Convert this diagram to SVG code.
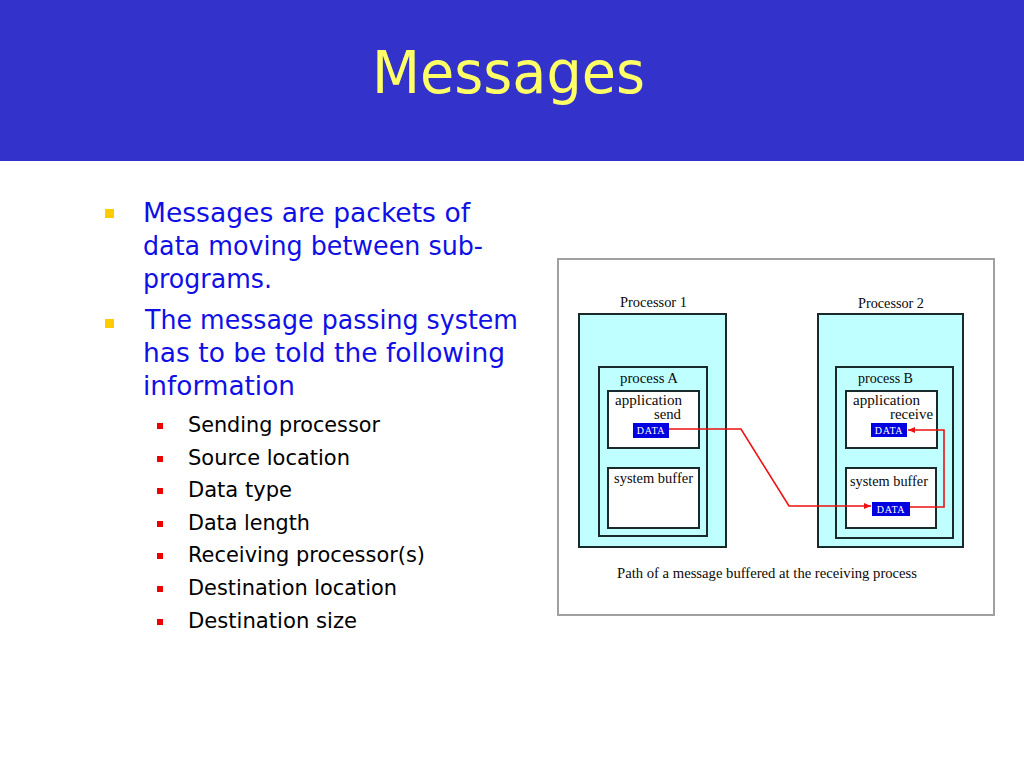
<svg xmlns="http://www.w3.org/2000/svg" width="1024" height="768" viewBox="0 0 1024 768">
<style>
.title{font-family:"DejaVu Sans","Noto Sans",sans-serif;font-size:58px;fill:#FFFF66}
.b1{font-family:"DejaVu Sans","Noto Sans",sans-serif;font-size:27px;fill:#1010E6}
.b2{font-family:"DejaVu Sans","Noto Sans",sans-serif;font-size:21px;fill:#000}
.dt{font-family:"Liberation Serif","DejaVu Serif",serif;font-size:14.5px;fill:#0a0a0a}
.cap{font-family:"Liberation Serif","DejaVu Serif",serif;font-size:14.5px;fill:#0a0a0a}
.data{font-family:"Liberation Serif","DejaVu Serif",serif;font-size:10px;fill:#fff;text-anchor:middle;letter-spacing:0.6px}
.proc{fill:#C0FFFF;stroke:#1a2a2a;stroke-width:2}
.inner{fill:#fff;stroke:#1a2a2a;stroke-width:2}
.dbox{fill:#0000E0}
.conn{fill:none;stroke:#EE1111;stroke-width:1.6}
</style>
<defs>
<marker id="arr" markerWidth="8" markerHeight="8" refX="7" refY="4" orient="auto" markerUnits="userSpaceOnUse">
<path d="M0,1 L7,4 L0,7 Z" fill="#EE1111"/>
</marker>
</defs>
<rect x="0" y="0" width="1024" height="768" fill="#fff"/>
<rect x="0" y="0" width="1024" height="161" fill="#3333CC"/>
<text class="title" x="372" y="93" textLength="273" lengthAdjust="spacingAndGlyphs">Messages</text>

<g id="bullets">
<rect x="105" y="209" width="9" height="9" fill="#FFCC00"/>
<rect x="105" y="319" width="9" height="9" fill="#FFCC00"/>
<text class="b1" x="143" y="222" textLength="327" lengthAdjust="spacingAndGlyphs">Messages are packets of</text>
<text class="b1" x="143" y="255" textLength="340" lengthAdjust="spacingAndGlyphs">data moving between sub-</text>
<text class="b1" x="143" y="288" textLength="129" lengthAdjust="spacingAndGlyphs">programs.</text>
<text class="b1" x="145" y="329" textLength="373" lengthAdjust="spacingAndGlyphs">The message passing system</text>
<text class="b1" x="143" y="362" textLength="362" lengthAdjust="spacingAndGlyphs">has to be told the following</text>
<text class="b1" x="143" y="395" textLength="152" lengthAdjust="spacingAndGlyphs">information</text>
<g fill="#EE0000">
<rect x="157" y="423" width="6" height="6"/>
<rect x="157" y="456" width="6" height="6"/>
<rect x="157" y="488" width="6" height="6"/>
<rect x="157" y="521" width="6" height="6"/>
<rect x="157" y="553" width="6" height="6"/>
<rect x="157" y="586" width="6" height="6"/>
<rect x="157" y="619" width="6" height="6"/>
</g>
<text class="b2" x="188" y="432" textLength="192" lengthAdjust="spacingAndGlyphs">Sending processor</text>
<text class="b2" x="188" y="465" textLength="162" lengthAdjust="spacingAndGlyphs">Source location</text>
<text class="b2" x="188" y="497" textLength="104" lengthAdjust="spacingAndGlyphs">Data type</text>
<text class="b2" x="188" y="530" textLength="122" lengthAdjust="spacingAndGlyphs">Data length</text>
<text class="b2" x="188" y="562" textLength="237" lengthAdjust="spacingAndGlyphs">Receiving processor(s)</text>
<text class="b2" x="188" y="595" textLength="209" lengthAdjust="spacingAndGlyphs">Destination location</text>
<text class="b2" x="188" y="628" textLength="169" lengthAdjust="spacingAndGlyphs">Destination size</text>
</g>

<rect id="panel" x="558" y="259" width="436" height="356" fill="#fff" stroke="#A0A0A0" stroke-width="2"/>

<g id="processor1">
<text class="dt" x="620" y="307" textLength="67" lengthAdjust="spacingAndGlyphs">Processor 1</text>
<rect class="proc" x="579" y="314" width="147" height="233"/>
</g>
<g id="processA">
<rect class="proc" x="599" y="367" width="108" height="169"/>
<text class="dt" x="620" y="383" textLength="58" lengthAdjust="spacingAndGlyphs">process A</text>
</g>
<g id="appA">
<rect class="inner" x="608" y="391" width="91" height="57"/>
<text class="dt" x="615" y="405" textLength="67" lengthAdjust="spacingAndGlyphs">application</text>
<text class="dt" x="654" y="419" textLength="27" lengthAdjust="spacingAndGlyphs">send</text>
</g>
<g id="dataA">
<rect class="dbox" x="633" y="423" width="36" height="15"/>
<text class="data" x="651" y="434">DATA</text>
</g>
<g id="sysbufA">
<rect class="inner" x="608" y="468" width="91" height="60"/>
<text class="dt" x="614" y="483" textLength="79" lengthAdjust="spacingAndGlyphs">system buffer</text>
</g>

<g id="processor2">
<text class="dt" x="858" y="308" textLength="66" lengthAdjust="spacingAndGlyphs">Processor 2</text>
<rect class="proc" x="818" y="314" width="145" height="233"/>
</g>
<g id="processB">
<rect class="proc" x="836" y="367" width="117" height="171"/>
<text class="dt" x="858" y="383" textLength="55" lengthAdjust="spacingAndGlyphs">process B</text>
</g>
<g id="appB">
<rect class="inner" x="846" y="391" width="91" height="57"/>
<text class="dt" x="853" y="405" textLength="67" lengthAdjust="spacingAndGlyphs">application</text>
<text class="dt" x="890" y="419" textLength="43" lengthAdjust="spacingAndGlyphs">receive</text>
</g>
<g id="dataB1">
<rect class="dbox" x="871" y="423" width="36" height="14"/>
<text class="data" x="889" y="434">DATA</text>
</g>
<g id="sysbufB">
<rect class="inner" x="846" y="468" width="90" height="60"/>
<text class="dt" x="850" y="486" textLength="78" lengthAdjust="spacingAndGlyphs">system buffer</text>
</g>
<g id="dataB2">
<rect class="dbox" x="872" y="502" width="38" height="14"/>
<text class="data" x="891" y="513">DATA</text>
</g>

<g id="connectors">
<path class="conn" d="M669,429 H741 L789,506 H871" marker-end="url(#arr)"/>
<path class="conn" d="M910,507 H944 V430 H908" marker-end="url(#arr)"/>
</g>

<text class="cap" x="617" y="578" textLength="300" lengthAdjust="spacingAndGlyphs">Path of a message buffered at the receiving process</text>
</svg>
